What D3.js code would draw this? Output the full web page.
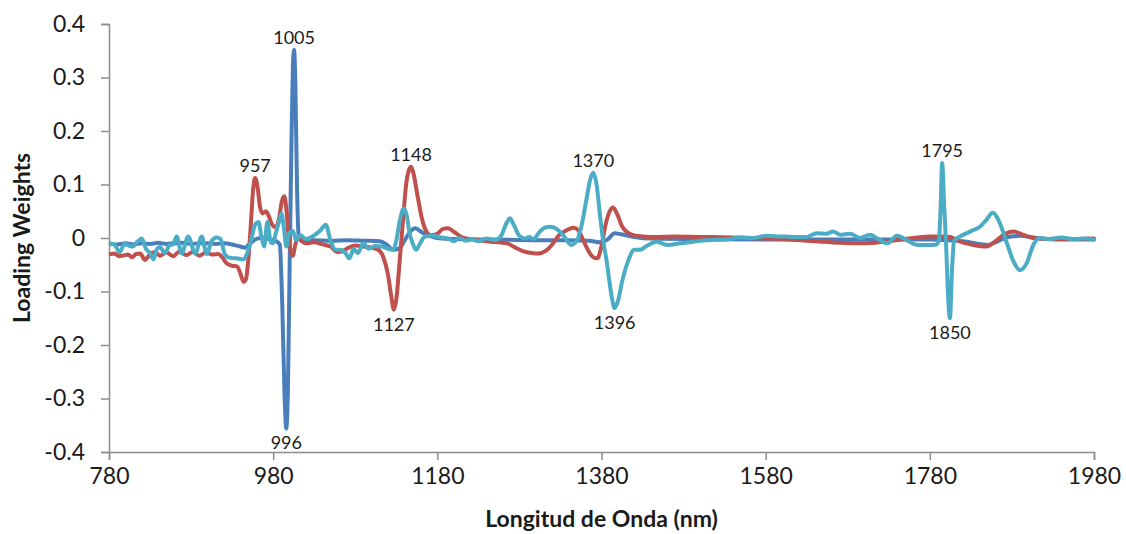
<!DOCTYPE html>
<html>
<head>
<meta charset="utf-8">
<script src="https://cdn.jsdelivr.net/npm/d3@7"></script>
<style>
  body { margin: 0; background: #ffffff; }
  svg { display: block; }
</style>
</head>
<body>
<svg id="chart" width="1126" height="534"></svg>
<script>
// Axis ticks
const xTicks = [780, 980, 1180, 1380, 1580, 1780, 1980];
const yTicks = [-0.4, -0.3, -0.2, -0.1, 0, 0.1, 0.2, 0.3, 0.4];
const yTickLabels = ["-0.4", "-0.3", "-0.2", "-0.1", "0", "0.1", "0.2", "0.3", "0.4"];

// Loading weights, factor 1 (blue)
const lw1Nm = [782, 790, 800, 810, 820, 830, 840, 850, 860, 870, 880, 890, 900, 910, 920, 930, 940, 946, 952, 958, 965, 975, 984, 988, 991, 994, 996, 998, 1000, 1002, 1004, 1005.5, 1007, 1009, 1011, 1014, 1030, 1050, 1070, 1090, 1110, 1118, 1126, 1133, 1140, 1146, 1153, 1162, 1172, 1185, 1200, 1250, 1300, 1340, 1365, 1378, 1388, 1396, 1404, 1420, 1440, 1500, 1600, 1700, 1780, 1800, 1820, 1840, 1850, 1860, 1875, 1890, 1910, 1940, 1980];
const lw1Val = [-0.011, -0.012, -0.010, -0.012, -0.010, -0.011, -0.009, -0.011, -0.010, -0.009, -0.011, -0.010, -0.010, -0.011, -0.010, -0.012, -0.016, -0.018, -0.010, -0.003, 0.000, -0.002, -0.006, -0.012, -0.12, -0.30, -0.356, -0.28, -0.06, 0.15, 0.32, 0.352, 0.29, 0.10, 0.004, -0.004, -0.004, -0.005, -0.004, -0.005, -0.006, -0.012, -0.022, -0.020, -0.005, 0.010, 0.018, 0.010, 0.003, -0.001, -0.002, -0.003, -0.004, -0.004, -0.005, -0.008, -0.002, 0.009, 0.007, 0.002, -0.001, -0.002, -0.003, -0.003, -0.003, -0.004, -0.006, -0.011, -0.013, -0.008, 0.002, 0.004, 0.000, -0.003, -0.003];

// Loading weights, factor 2 (red)
const lw2Nm = [782, 787, 792, 797, 803, 808, 813, 818, 824, 830, 836, 842, 850, 858, 866, 874, 882, 890, 898, 906, 913, 918, 923, 930, 936, 940, 944, 947, 950, 953, 955.5, 958, 961, 964, 967, 971, 975, 978, 983, 987, 990.5, 993.5, 996, 999, 1002, 1004, 1007, 1010, 1015, 1020, 1030, 1040, 1050, 1058, 1065, 1072, 1080, 1090, 1100, 1108, 1114, 1120, 1124, 1127, 1130, 1134, 1138, 1142, 1145, 1148, 1151, 1156, 1161, 1166, 1172, 1180, 1187, 1193, 1200, 1207, 1215, 1225, 1235, 1245, 1255, 1265, 1275, 1285, 1295, 1303, 1312, 1320, 1328, 1337, 1346, 1352, 1358, 1364, 1370, 1375, 1380, 1385, 1390, 1394, 1399, 1405, 1412, 1420, 1430, 1445, 1470, 1500, 1540, 1580, 1610, 1640, 1670, 1700, 1730, 1760, 1780, 1795, 1805, 1817, 1833, 1849, 1860, 1870, 1882, 1894, 1906, 1925, 1950, 1980];
const lw2Val = [-0.030, -0.029, -0.034, -0.033, -0.031, -0.036, -0.030, -0.029, -0.041, -0.030, -0.026, -0.033, -0.027, -0.034, -0.025, -0.032, -0.026, -0.033, -0.027, -0.031, -0.030, -0.036, -0.047, -0.052, -0.053, -0.066, -0.082, -0.076, -0.035, 0.030, 0.090, 0.112, 0.095, 0.058, 0.046, 0.050, 0.040, 0.027, 0.020, 0.035, 0.068, 0.078, 0.055, 0.000, -0.028, -0.033, -0.012, 0.000, -0.006, -0.010, -0.008, -0.012, -0.016, -0.026, -0.024, -0.018, -0.014, -0.016, -0.018, -0.022, -0.035, -0.070, -0.110, -0.134, -0.115, -0.045, 0.030, 0.100, 0.125, 0.133, 0.120, 0.078, 0.038, 0.014, 0.005, 0.008, 0.017, 0.018, 0.012, 0.004, -0.001, -0.003, -0.005, -0.007, -0.008, -0.010, -0.018, -0.025, -0.028, -0.029, -0.024, -0.012, 0.005, 0.014, 0.019, 0.014, -0.005, -0.024, -0.036, -0.038, -0.015, 0.025, 0.050, 0.057, 0.045, 0.022, 0.010, 0.005, 0.003, 0.002, 0.003, 0.002, 0.001, -0.001, -0.003, -0.006, -0.009, -0.010, -0.006, 0.000, 0.003, 0.003, 0.002, -0.007, -0.013, -0.016, -0.006, 0.006, 0.012, 0.006, 0.000, -0.002, -0.002, -0.001];

// Loading weights, factor 3 (cyan)
const lw3Nm = [782, 787, 793, 799, 804, 809, 814, 820, 825, 830, 834, 838, 842, 848, 854, 858, 862.5, 868.5, 876.5, 885, 893, 899, 905, 911, 916, 921, 927, 935, 943.5, 948, 953, 958, 962, 966, 969, 973, 977, 980, 983, 987, 990, 993, 996, 1000, 1004, 1008, 1013, 1020, 1030, 1038, 1044, 1050, 1056, 1062, 1068, 1073, 1078, 1083, 1090, 1096, 1104, 1112, 1120, 1126, 1130, 1134, 1139, 1143, 1146, 1150, 1154, 1159, 1165, 1175, 1185, 1195, 1200, 1207, 1215, 1222, 1230, 1240, 1250, 1258, 1264, 1268.5, 1273, 1280, 1287, 1292, 1297, 1305, 1312, 1318, 1326, 1334, 1343, 1350, 1356, 1362, 1366, 1370, 1374, 1378, 1382, 1386, 1390, 1393, 1396, 1400, 1405, 1412, 1420, 1427, 1435, 1447, 1460, 1476, 1492, 1508, 1532, 1549, 1565, 1581, 1597, 1613, 1630, 1642, 1654, 1662, 1671, 1683, 1695, 1707, 1719, 1728, 1740, 1752, 1762, 1770, 1780, 1788, 1791, 1793, 1795, 1797.5, 1800, 1802, 1804.5, 1807, 1809.5, 1817, 1829, 1841, 1849, 1856.5, 1865.5, 1874, 1882, 1890, 1898, 1906, 1914, 1925, 1940, 1955, 1970, 1980];
const lw3Val = [-0.010, -0.013, -0.026, -0.011, -0.014, -0.016, -0.008, -0.001, -0.020, -0.028, -0.040, -0.022, -0.017, -0.028, -0.013, -0.012, 0.003, -0.029, 0.003, -0.029, 0.003, -0.030, -0.006, 0.001, -0.002, -0.030, -0.037, -0.038, -0.040, -0.030, -0.005, 0.025, 0.030, 0.000, -0.016, 0.030, -0.008, -0.010, 0.008, 0.030, 0.046, 0.020, -0.016, 0.010, 0.013, -0.004, 0.005, -0.002, 0.005, 0.015, 0.025, -0.005, -0.022, -0.022, -0.028, -0.038, -0.020, -0.028, -0.010, -0.020, -0.015, -0.016, -0.020, -0.022, -0.005, 0.030, 0.055, 0.040, 0.010, -0.010, -0.022, -0.010, 0.003, 0.004, 0.001, -0.002, -0.006, 0.000, -0.005, -0.002, -0.006, -0.001, -0.004, 0.005, 0.027, 0.037, 0.025, 0.004, -0.001, 0.002, -0.002, 0.012, 0.020, 0.021, 0.016, 0.004, -0.013, -0.005, 0.025, 0.075, 0.108, 0.122, 0.100, 0.045, -0.005, -0.040, -0.085, -0.115, -0.131, -0.118, -0.082, -0.045, -0.022, -0.022, -0.015, -0.007, -0.013, -0.010, -0.007, -0.004, -0.003, 0.001, 0.000, 0.004, 0.003, 0.002, 0.002, 0.009, 0.008, 0.012, 0.006, 0.008, 0.000, 0.006, -0.004, -0.010, 0.004, -0.004, -0.012, -0.013, -0.013, -0.012, -0.005, 0.050, 0.140, 0.060, -0.020, -0.100, -0.150, -0.060, -0.006, 0.003, 0.012, 0.021, 0.034, 0.047, 0.027, -0.010, -0.044, -0.060, -0.047, -0.013, 0.000, -0.002, 0.001, -0.002, -0.001, -0.003];

// Peak annotations: text, which factor it marks, wavelength of the marked extremum, side
const peakText = ["957", "1005", "996", "1148", "1127", "1370", "1396", "1795", "1850"];
const peakFactor = [2, 1, 1, 2, 2, 3, 3, 3, 3];
const peakAt = [958, 1005.5, 996, 1148, 1127, 1370, 1396, 1795, 1804.5];
const peakSide = ["up", "up", "down", "up", "down", "up", "down", "up", "down"];

const factors = [
  { nm: lw1Nm, val: lw1Val, color: "#4A7EBB" },
  { nm: lw2Nm, val: lw2Val, color: "#C0504D" },
  { nm: lw3Nm, val: lw3Val, color: "#4BACC6" }
];

const W = 1126, H = 534;
const margin = { top: 24, right: 32, bottom: 82, left: 109 };

const svg = d3.select("#chart");

const x = d3.scaleLinear().domain([780, 1980]).range([margin.left, W - margin.right]);
const y = d3.scaleLinear().domain([-0.4, 0.4]).range([H - margin.bottom, margin.top]);

const axisColor = "#8C8C8C";
const textFont = "Lato, 'Open Sans', sans-serif";

// Y axis
const yAxis = svg.append("g")
  .attr("transform", `translate(${margin.left},0)`)
  .call(d3.axisLeft(y).tickValues(yTicks).tickSize(8).tickPadding(16)
    .tickFormat((d, i) => yTickLabels[i]));
// X axis
const xAxis = svg.append("g")
  .attr("transform", `translate(0,${H - margin.bottom})`)
  .call(d3.axisBottom(x).tickValues(xTicks).tickSize(8).tickPadding(8)
    .tickFormat(d3.format("d")));

[yAxis, xAxis].forEach(g => {
  g.select(".domain").attr("stroke", axisColor).attr("stroke-width", 1.5);
  g.selectAll(".tick line").attr("stroke", axisColor).attr("stroke-width", 1.5);
  g.selectAll(".tick text")
    .attr("fill", "#1a1a1a")
    .style("font-family", textFont)
    .style("font-size", "23px");
});

// Lines
const line = d3.line()
  .x(d => x(d[0]))
  .y(d => y(d[1]))
  .curve(d3.curveMonotoneX);

factors.forEach(f => {
  const pts = f.nm.map((n, i) => [n, f.val[i]]);
  svg.append("path")
    .datum(pts)
    .attr("fill", "none")
    .attr("stroke", f.color)
    .attr("stroke-width", 4)
    .attr("stroke-linejoin", "round")
    .attr("stroke-linecap", "round")
    .attr("d", line);
});

// Peak annotations
peakText.forEach((t, i) => {
  const f = factors[peakFactor[i] - 1];
  let k = 0, best = Infinity;
  f.nm.forEach((n, j) => { const dd = Math.abs(n - peakAt[i]); if (dd < best) { best = dd; k = j; } });
  const px = x(f.nm[k]);
  const py = y(f.val[k]);
  svg.append("text")
    .attr("x", px)
    .attr("y", peakSide[i] === "up" ? py - 6 : py + 21)
    .attr("text-anchor", "middle")
    .attr("fill", "#1a1a1a")
    .style("font-family", textFont)
    .style("font-size", "18px")
    .text(t);
});

// Axis titles
svg.append("text")
  .attr("transform", `translate(30,${(margin.top + H - margin.bottom) / 2}) rotate(-90)`)
  .attr("text-anchor", "middle")
  .attr("fill", "#1a1a1a")
  .style("font-family", textFont)
  .style("font-weight", "bold")
  .style("font-size", "23px")
  .text("Loading Weights");

svg.append("text")
  .attr("x", (margin.left + W - margin.right) / 2)
  .attr("y", 527)
  .attr("text-anchor", "middle")
  .attr("fill", "#1a1a1a")
  .style("font-family", textFont)
  .style("font-weight", "bold")
  .style("font-size", "23px")
  .text("Longitud de Onda (nm)");
</script>
</body>
</html>
